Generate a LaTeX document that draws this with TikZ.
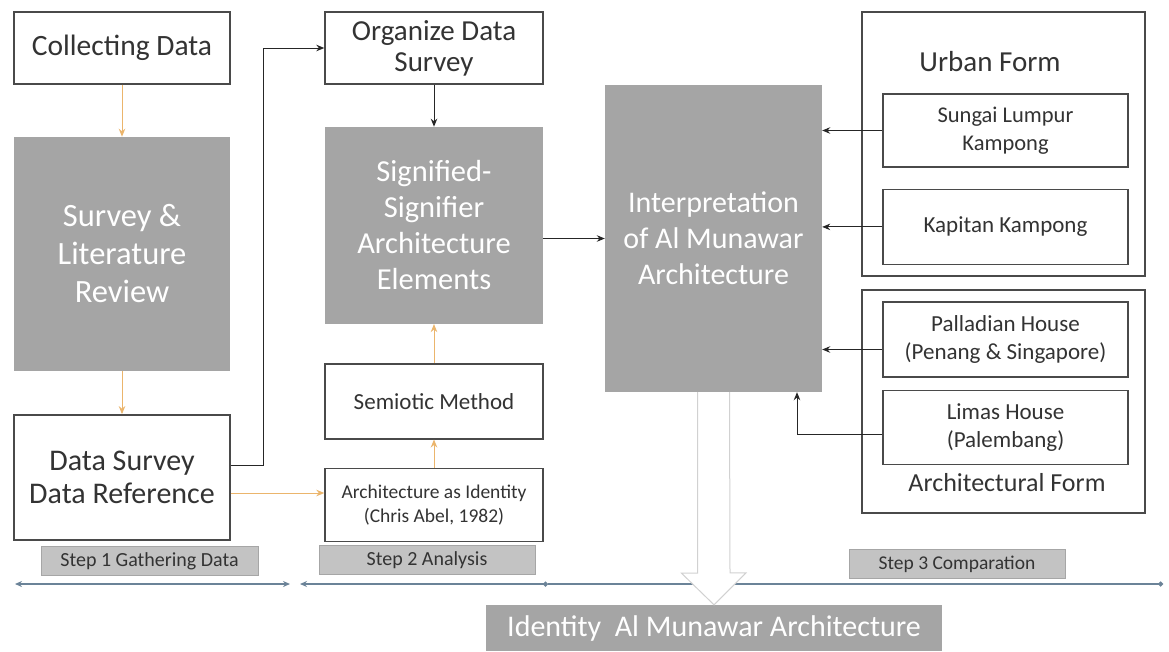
\documentclass[tikz,border=0pt]{standalone}
\usepackage{fontspec}
\setmainfont{Carlito}
\usetikzlibrary{arrows.meta,positioning}

\definecolor{boxgray}{HTML}{A5A5A5}
\definecolor{labgray}{HTML}{C3C3C3}
\definecolor{txtgray}{HTML}{333333}
\definecolor{linegray}{HTML}{4A4A4A}
\definecolor{flowor}{HTML}{EBB56C}
\definecolor{tlblue}{HTML}{6B8398}

\newcommand{\fs}[2]{\fontsize{#1}{#2}\selectfont}

\begin{document}
\begin{tikzpicture}[x=1pt,y=1pt,>={Stealth[length=8pt,width=6.5pt]},
  box/.style={draw=linegray,line width=1.4pt,fill=white,text=txtgray,
    align=center,inner sep=0pt},
  greybox/.style={fill=boxgray,text=white,align=center,inner sep=0pt},
  frame/.style={draw=linegray,line width=1.4pt,inner sep=0pt},
  steplabel/.style={fill=labgray,draw=labgray!85!black,line width=0.6pt,
    text=txtgray,inner sep=0pt,minimum height=29},
  blk/.style={->,draw=black!85,line width=1pt},
  org/.style={->,draw=flowor,line width=1pt},
  tl/.style={draw=tlblue,line width=1.2pt},
  hollow/.style={draw=black!18,fill=white,line width=1pt}]

  \fill[white] (0,0) rectangle (1169,-651);
  \useasboundingbox (0,0) rectangle (1169,-651);

  % step 1: gathering data
  \node[box,minimum width=216,minimum height=72,font=\fs{29.5}{34}] (collect)
    at (122,-48) {Collecting Data};
  \node[greybox,minimum width=216,minimum height=234,font=\fs{32.5}{38},
    below=52 of collect] (survey) {Survey \&\\Literature\\Review};
  \node[box,minimum width=216,minimum height=125,font=\fs{30}{33},
    below=43 of survey] (dsurvey) {Data Survey\\Data Reference};

  % step 2: analysis
  \node[box,minimum width=218,minimum height=72,font=\fs{29}{31}] (organize)
    at (434,-48) {Organize Data\\Survey};
  \node[greybox,minimum width=218,minimum height=197,font=\fs{30.5}{36},
    below=42 of organize] (signif) {Signified-\\Signifier\\Architecture\\Elements};
  \node[box,minimum width=218,minimum height=75,font=\fs{23}{28},
    below=39 of signif] (semiotic) {Semiotic Method};
  \node[box,minimum width=218,minimum height=73,font=\fs{19.5}{24},
    below=28 of semiotic] (archid) {Architecture as Identity\\(Chris Abel, 1982)};

  % step 3: comparation
  \node[greybox,minimum width=217,minimum height=307,font=\fs{30}{36}] (interp)
    at (713.5,-238.5) {Interpretation\\of Al Munawar\\Architecture};

  \node[frame,minimum width=283,minimum height=264] (urban) at (1003.5,-144) {};
  \node[text=txtgray,font=\fs{29}{34}] (urbant) at (990,-62) {Urban Form};
  \node[box,minimum width=245,minimum height=73,font=\fs{22.5}{28}] (sungai)
    at (1005.5,-130.5) {Sungai Lumpur\\Kampong};
  \node[box,minimum width=245,minimum height=75,font=\fs{23}{28},
    below=21 of sungai] (kapitan) {Kapitan Kampong};

  \node[frame,minimum width=283,minimum height=223] (archf) at (1003.5,-401.5) {};
  \node[box,minimum width=245,minimum height=75,font=\fs{23}{28}] (palladian)
    at (1005.5,-339.5) {Palladian House\\(Penang \& Singapore)};
  \node[box,minimum width=245,minimum height=74,font=\fs{23}{28},
    below=12 of palladian] (limas) {Limas House\\(Palembang)};
  \node[text=txtgray,font=\fs{26}{31}] (archft) at (1007,-483) {Architectural Form};

  % step labels
  \node[steplabel,minimum width=217,font=\fs{20}{24}] (step1) at (149.5,-561)
    {Step 1 Gathering Data};
  \node[steplabel,minimum width=216,font=\fs{20}{24}] (step2) at (427,-560)
    {Step 2 Analysis};
  \node[steplabel,minimum width=216,font=\fs{19.5}{24}] (step3) at (957,-564)
    {Step 3 Comparation};

  % result
  \node[greybox,minimum width=456,minimum height=46,font=\fs{30}{36}] (ident)
    at (714,-628) {Identity\ \ Al Munawar Architecture};

  % flow
  \draw[org] (collect) -- (survey);
  \draw[org] (survey) -- (dsurvey);
  \draw[blk] (dsurvey.east |- 0,-465) -- ++(33,0) |- (organize.west);
  \draw[org] (dsurvey.east |- 0,-493) -- (archid.west |- 0,-493);
  \draw[blk] (organize) -- (signif);
  \draw[org] (archid) -- (semiotic);
  \draw[org] (semiotic) -- (signif);
  \draw[blk] (signif.east |- interp.west) -- (interp.west);
  \draw[blk] (sungai.west) -- (interp.east |- sungai.west);
  \draw[blk] (kapitan.west) -- (interp.east |- kapitan.west);
  \draw[blk] ([yshift=-10]palladian.west) -- (interp.east |- 0,-349.5);
  \draw[blk] ([yshift=-7]limas.west) -| ([xshift=83.5]interp.south);

  % time line
  \coordinate (tla) at (15,-584);
  \coordinate (tlb) at (290,-584);
  \coordinate (tlc) at (300,-584);
  \coordinate (tld) at (548,-584);
  \coordinate (tle) at (1163,-584);
  \draw[tl,{Stealth[length=7pt,width=6pt]}-{Stealth[length=7pt,width=6pt]}] (tla) -- (tlb);
  \draw[tl,{Stealth[length=7pt,width=6pt]}-{Circle[length=5pt]}] (tlc) -- (tld);
  \draw[tl,-{Circle[length=5pt]}] (tld) -- (tle);

  % block arrow down to the result
  \draw[hollow] ([xshift=-16]interp.south) -- ++(0,-181) -- ++(-16,0)
    -- (ident.north) -- ++(32,32) -- ++(-16,0) -- ([xshift=16]interp.south);
\end{tikzpicture}
\end{document}
